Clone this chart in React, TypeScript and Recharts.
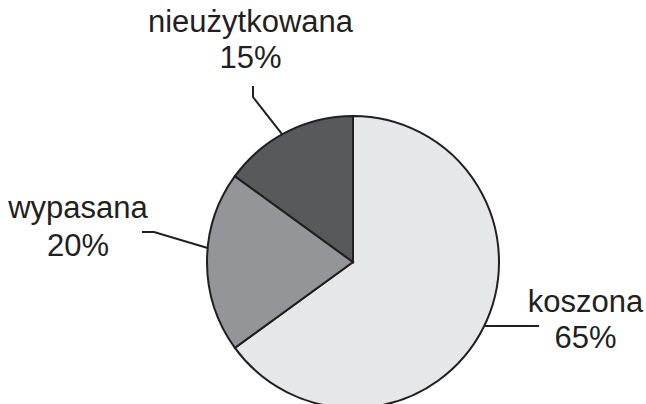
import React from 'react'
import { PieChart, Pie, Cell } from 'recharts'

// land use shares
const categories = ['koszona', 'wypasana', 'nieużytkowana']
const shares = [65, 20, 15]
const colors = ['#e6e7e8', '#939598', '#58595b']

const data = categories.map((name, i) => ({ name, value: shares[i] }))

const INK = '#231f20'
const FONT = '"Liberation Sans", Arial, Helvetica, sans-serif'

// per-slice label placement: angle tweak for the leader start, leader bend, text centre
const labelLayout = [
  { dAngle: 1, bend: [[539, 326]], x: 585.5, y1: 312, y2: 348 },
  { dAngle: -5.5, bend: [[154, 232], [142, 232]], x: 78, y1: 218, y2: 256 },
  { dAngle: 2, bend: [[253, 97], [253, 86]], x: 250.5, y1: 32, y2: 68 },
]

const RADIAN = Math.PI / 180

const renderLabel = (props: any) => {
  const { cx, cy, midAngle, outerRadius, index, name, value } = props
  const lay = labelLayout[index]
  const a = (midAngle + lay.dAngle) * RADIAN
  const sx = cx + outerRadius * Math.cos(a)
  const sy = cy - outerRadius * Math.sin(a)
  const pts = [[sx, sy], ...lay.bend].map((p) => p.join(',')).join(' ')
  return (
    <g key={`lbl-${index}`}>
      <polyline points={pts} fill="none" stroke={INK} strokeWidth={2} />
      <text x={lay.x} y={lay.y1} textAnchor="middle" fontFamily={FONT} fontSize={31} fill={INK}>
        {name}
      </text>
      <text x={lay.x} y={lay.y2} textAnchor="middle" fontFamily={FONT} fontSize={31} fill={INK}>
        {value}%
      </text>
    </g>
  )
}

const App = () => {
  return (
    <div style={{ position: 'absolute', left: 0, top: 0, width: 646, height: 404, background: '#fff' }}>
      <PieChart width={646} height={404} margin={{ top: 0, right: 0, bottom: 0, left: 0 }}>
        <Pie
          data={data}
          dataKey="value"
          nameKey="name"
          cx={353}
          cy={262}
          outerRadius={146}
          startAngle={90}
          endAngle={-270}
          stroke={INK}
          strokeWidth={2}
          label={renderLabel}
          labelLine={false}
          isAnimationActive={false}
        >
          {data.map((d, i) => (
            <Cell key={d.name} fill={colors[i]} />
          ))}
        </Pie>
      </PieChart>
    </div>
  )
}

export default App
